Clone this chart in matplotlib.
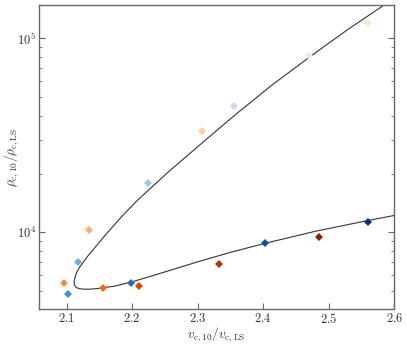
import math
import matplotlib
matplotlib.use("Agg")
import matplotlib.pyplot as plt
from matplotlib.ticker import FuncFormatter, FixedLocator, LogLocator, NullFormatter

plt.rcParams['mathtext.fontset'] = 'cm'
plt.rcParams['font.family'] = ['DejaVu Serif']

# Blue series
blue_x = [2.1024, 2.1168, 2.1982, 2.2246, 2.3554, 2.4028, 2.4704, 2.5605]
blue_y = [4809, 7054, 5480, 18020, 44780, 8776, 81070, 11340]
blue_colors = ['#4292c6', '#6baed6', '#2171b5', '#9ecae1', '#c6dbef', '#08519c', '#deebf7', '#08306b']

# Orange series
orange_x = [2.0959, 2.1336, 2.1550, 2.2104, 2.3061, 2.3330, 2.4852, 2.5600]
orange_y = [5460, 10270, 5181, 5305, 33290, 6864, 9491, 120300]
orange_colors = ['#fd8d3c', '#fdae6b', '#f16913', '#d94801', '#fdd0a2', '#a63603', '#7f2704', '#fee6ce']

# Model curve
curve_x = [2.5860, 2.5279, 2.4714, 2.4134, 2.3554, 2.3061, 2.2577, 2.2093, 2.1840,
           2.1585, 2.1330, 2.1203, 2.1157, 2.1130, 2.1115, 2.1121, 2.1150, 2.1203,
           2.1279, 2.1371, 2.1482, 2.1737, 2.1992, 2.2246, 2.2501, 2.3035, 2.3524,
           2.4028, 2.4806, 2.5605, 2.6012]
curve_y = [149670, 110360, 80390, 57440, 39860, 28760, 20830, 14760, 12060,
           9627, 7592, 6648, 6244, 5884, 5564, 5351, 5194, 5127,
           5096, 5102, 5144, 5287, 5557, 5889, 6259, 7112, 7932,
           8786, 10154, 11530, 12250]

x_ticks = [2.1, 2.2, 2.3, 2.4, 2.5, 2.6]
y_ticks = [1e4, 1e5]

fig = plt.figure(figsize=(4.07, 3.44), dpi=100)
ax = fig.add_axes([0.0958, 0.1017, 0.873, 0.8846])

ax.plot(curve_x, curve_y, color='#333333', lw=0.8, zorder=2)

for x, y, c in zip(blue_x, blue_y, blue_colors):
    ax.plot([x], [y], marker='D', ms=4.4, mew=0, color=c, ls='none', zorder=3)
for x, y, c in zip(orange_x, orange_y, orange_colors):
    ax.plot([x], [y], marker='D', ms=4.4, mew=0, color=c, ls='none', zorder=3)

ax.set_yscale('log')
ax.set_xlim(2.058, 2.6)
ax.set_ylim(4030, 1.49e5)

ax.xaxis.set_major_locator(FixedLocator(x_ticks))
ax.xaxis.set_major_formatter(FuncFormatter(lambda v, p: r'$%.1f$' % v))
ax.yaxis.set_major_locator(FixedLocator(y_ticks))
ax.yaxis.set_major_formatter(FuncFormatter(lambda v, p: r'$10^{%d}$' % round(math.log10(v))))
ax.yaxis.set_minor_locator(LogLocator(base=10, subs=range(2, 10)))
ax.yaxis.set_minor_formatter(NullFormatter())

spine_c = '#666666'
for s in ax.spines.values():
    s.set_color(spine_c)
    s.set_linewidth(1.0)

ax.tick_params(axis='x', which='major', direction='in', length=4, width=0.8, color=spine_c,
               labelsize=9, pad=2, top=False)
ax.tick_params(axis='y', which='major', direction='in', length=4, width=0.8, color=spine_c,
               labelsize=9, right=True, pad=2)
ax.tick_params(axis='y', which='minor', direction='in', length=2.5, width=0.6, color=spine_c,
               right=True)
ax.tick_params(labelcolor='#333333')

ax.set_xlabel(r'$v_{\rm c,10}/v_{\rm c,LS}$', fontsize=9.5, color='#333333')
ax.set_ylabel(r'$\rho_{\rm c,10}/\rho_{\rm c,LS}$', fontsize=9.5, color='#333333')
ax.xaxis.set_label_coords(0.5, -0.055)
ax.yaxis.set_label_coords(-0.05, 0.5)

fig.savefig('out.png', dpi=100)
